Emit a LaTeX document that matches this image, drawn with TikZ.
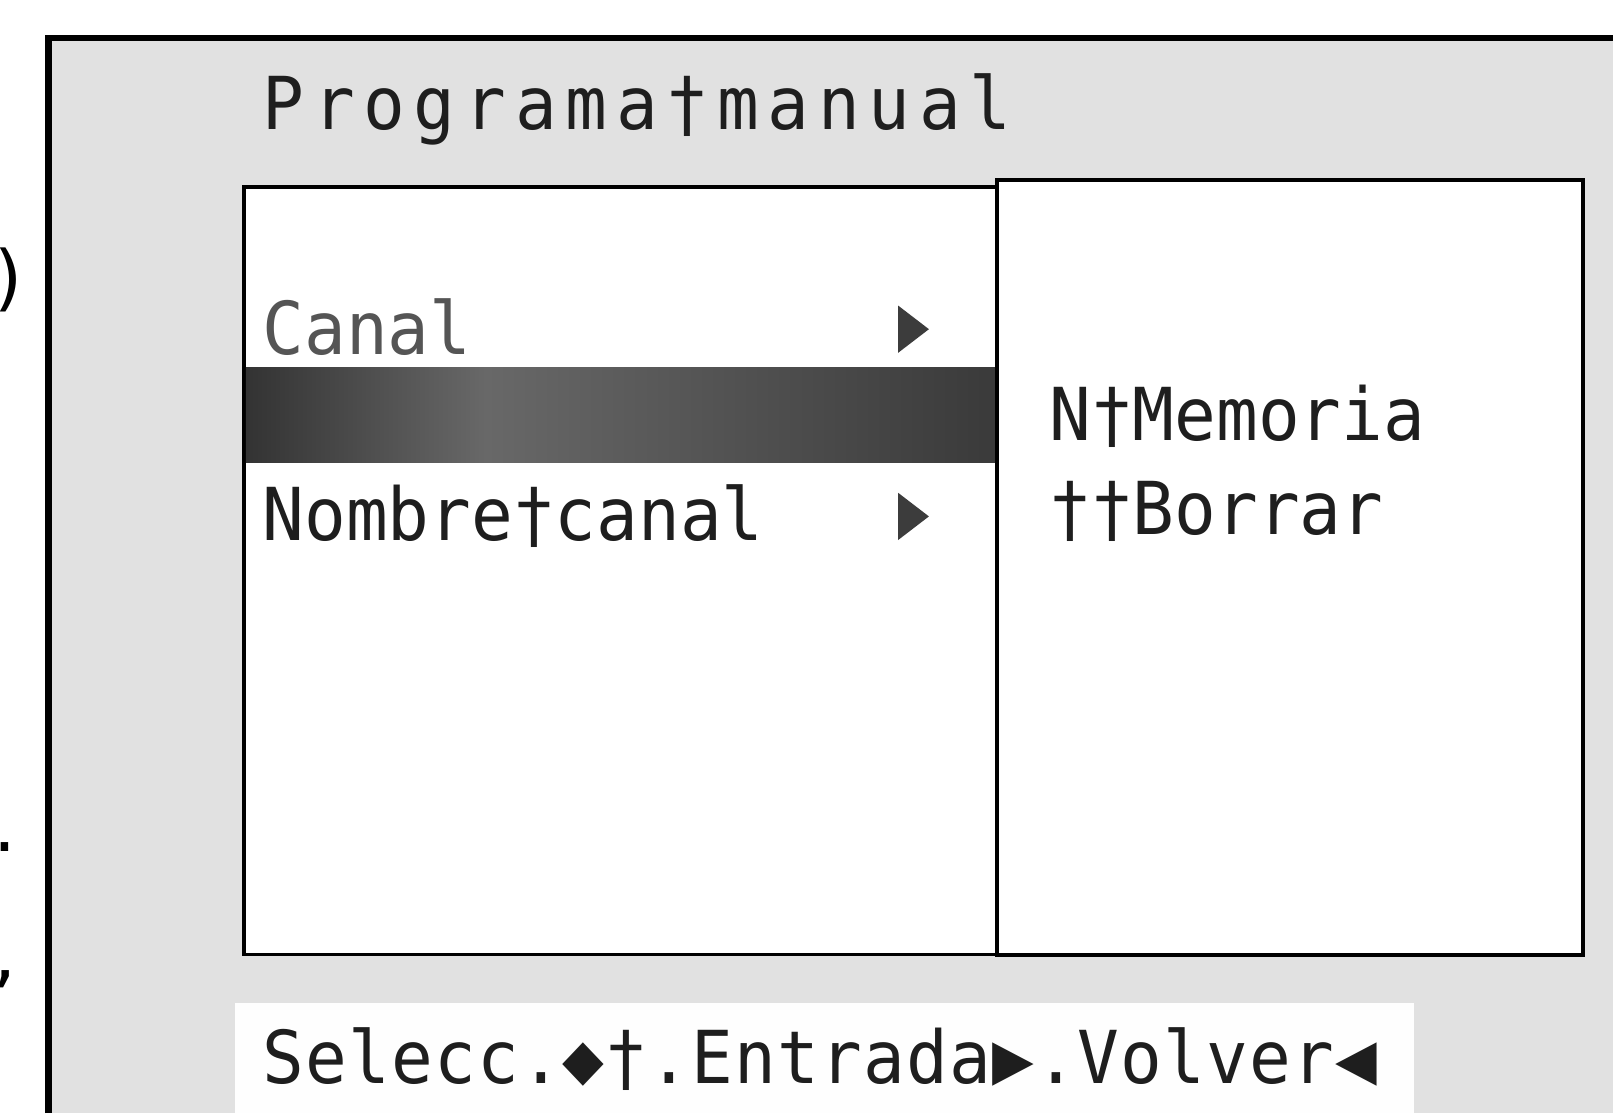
\documentclass[tikz,border=0pt]{standalone}
\usepackage{fontspec}
\newfontfamily\osd[FakeStretch=0.95]{DejaVu Sans Mono}
\newfontfamily\osdwide[FakeStretch=0.95,LetterSpace=12]{DejaVu Sans Mono}
\newfontfamily\osdhelp[FakeStretch=0.95,LetterSpace=1.6]{DejaVu Sans Mono}
\newfontfamily\pagefont{DejaVu Sans}
\definecolor{panelgray}{HTML}{E1E1E1}
\definecolor{barA}{HTML}{333333}
\definecolor{barB}{HTML}{686868}
\definecolor{barC}{HTML}{3A3A3A}
\definecolor{dimtext}{HTML}{555555}
\definecolor{ink}{HTML}{1E1E1E}
\definecolor{tricol}{HTML}{3C3C3C}
\pgfdeclarehorizontalshading{hlbar}{100bp}{color(0bp)=(barA); color(25bp)=(barA); color(41bp)=(barB); color(75bp)=(barC); color(100bp)=(barC)}
\begin{document}
\begin{tikzpicture}[x=1.0287pt,y=-1.0287pt,
  txt/.style={anchor=base west, inner sep=0pt, text=ink, font=\osd\fontsize{73}{73}\selectfont},
  frag/.style={anchor=base east, inner sep=0pt, text=black, font=\pagefont\fontsize{72}{72}\selectfont},
  frame/.style={line width=6.8pt, black},
  panel/.style={draw=black, fill=white, line width=3.6pt},
  tri/.style={fill=tricol}]
\useasboundingbox (0,0) rectangle (1568,1082);
\fill[white] (0,0) rectangle (1568,1082);
% outer screen
\fill[panelgray] (47,37) rectangle (1568,1082);
\draw[frame] (47,1082) -- (47,37) -- (1568,37);
% cut-off characters of the neighbouring page
\node[frag] (f1) at (22,294) {)};
\node[frag] (f2) at (16,828) {.};
\node[frag] (f3) at (16,952) {,};
% title
\node[txt, font=\osdwide\fontsize{73}{73}\selectfont] (title) at (255,126) {Programa†manual};
% panels
\draw[panel] (237,182) rectangle (969,928);
\draw[panel, line width=4.1pt] (969,175) rectangle (1539,928);
% highlight bar
\shade[shading=hlbar] (239,357) rectangle (967,450);
% left menu
\node[txt, text=dimtext] (canal) at (255,345) {Canal};
\fill[tri] (873,297) -- (903,320) -- (873,343) -- cycle;
\node[txt] (nombre) at (255,525) {Nombre†canal};
\fill[tri] (873,479) -- (903,502) -- (873,525) -- cycle;
% right menu
\node[txt] (memoria) at (1020,428) {N†Memoria};
\node[txt] (borrar) at (1020,520) {††Borrar};
% help bar
\fill[white!98!panelgray] (228,975) rectangle (1375,1082);
\node[txt, font=\osdhelp\fontsize{73}{73}\selectfont] (help) at (255,1053) {Selecc.◆†.Entrada▶.Volver◀};
\end{tikzpicture}
\end{document}
